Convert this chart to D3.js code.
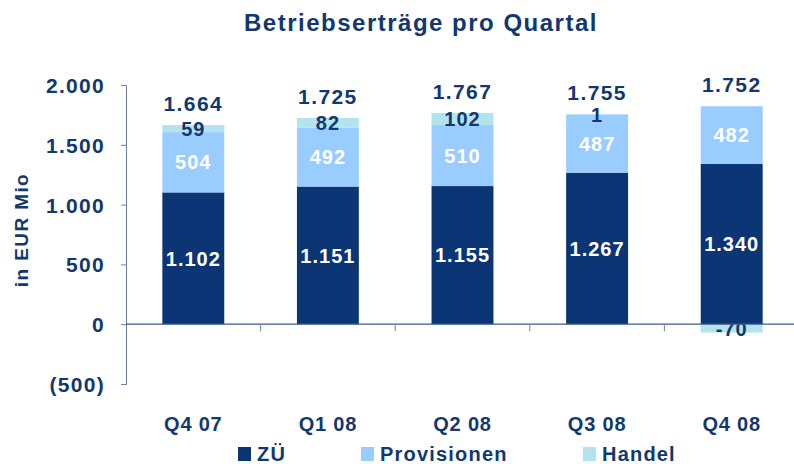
<!DOCTYPE html>
<html>
<head>
<meta charset="utf-8">
<script src="https://cdn.jsdelivr.net/npm/d3@7"></script>
<style>
  body { margin: 0; background: #fff; }
  text { font-family: "Liberation Sans", Arial, sans-serif; font-weight: bold; }
</style>
</head>
<body>
<svg id="chart" width="794" height="464"></svg>
<script>
// data
var quarters = ["Q4 07", "Q1 08", "Q2 08", "Q3 08", "Q4 08"];
var zue = [1102, 1151, 1155, 1267, 1340];
var provisionen = [504, 492, 510, 487, 482];
var handel = [59, 82, 102, 1, -70];
var totals = [1664, 1725, 1767, 1755, 1752];
var seriesNames = ["ZÜ", "Provisionen", "Handel"];
var yTicks = [-500, 0, 500, 1000, 1500, 2000];

var colors = {"ZÜ": "#0b3575", "Provisionen": "#99ccff", "Handel": "#b3e3ee"};
var labelColors = {"ZÜ": "#ffffff", "Provisionen": "#ffffff", "Handel": "#12386e"};
var navy = "#12386e";

var svg = d3.select("#chart"),
    margin = {top: 85, left: 126},
    plotRight = 799;

var table = quarters.map(function (q, i) {
    return {quarter: q, "ZÜ": zue[i], "Provisionen": provisionen[i], "Handel": handel[i], total: totals[i]};
});

var x = d3.scaleBand()
    .domain(quarters)
    .range([margin.left, plotRight])
    .paddingInner(0.54)
    .paddingOuter(0.27);

var y = d3.scaleLinear()
    .domain([-500, 2000])
    .range([384, 85]);

var fmt = function (v) {
    var s = d3.format(",")(Math.abs(v)).replace(/,/g, ".");
    return v < 0 ? "(" + s + ")" : s;
};
var fmtLabel = function (v) {
    return (v < 0 ? "-" : "") + d3.format(",")(Math.abs(v)).replace(/,/g, ".");
};

// title
svg.append("text")
    .attr("x", 421)
    .attr("y", 31)
    .attr("text-anchor", "middle")
    .attr("fill", navy)
    .style("font-size", "24px")
    .style("letter-spacing", "1.5px")
    .text("Betriebserträge pro Quartal");

// y axis title
svg.append("text")
    .attr("transform", "translate(28,230) rotate(-90)")
    .attr("text-anchor", "middle")
    .attr("fill", navy)
    .style("font-size", "19px")
    .style("letter-spacing", "1.4px")
    .text("in EUR Mio");

var stack = d3.stack()
    .keys(seriesNames)
    .offset(d3.stackOffsetDiverging);
var layers = stack(table);

var g = svg.append("g");

layers.forEach(function (layer) {
    g.selectAll(".bar-" + layer.index)
        .data(layer)
        .enter().append("rect")
        .attr("x", function (d) { return x(d.data.quarter); })
        .attr("width", x.bandwidth())
        .attr("y", function (d) { return y(Math.max(d[0], d[1])); })
        .attr("height", function (d) { return Math.abs(y(d[0]) - y(d[1])); })
        .attr("fill", colors[layer.key]);
});

// y axis
var yAxis = svg.append("g")
    .attr("transform", "translate(" + margin.left + ",0)")
    .call(d3.axisLeft(y).tickValues(yTicks).tickFormat(fmt).tickSize(5).tickSizeOuter(5).tickPadding(16));
yAxis.select(".domain").attr("stroke", "#6f7fa3");
yAxis.selectAll(".tick line").attr("stroke", "#6f7fa3");
yAxis.selectAll(".tick text")
    .attr("fill", navy)
    .style("font-size", "21px")
    .style("letter-spacing", "1.3px")
    .attr("dy", "0.36em");

// x axis along zero
var bounds = quarters.map(function (q) { return x(q) - x.step() * x.paddingInner() / 2; }).slice(1);
svg.append("line")
    .attr("x1", margin.left).attr("x2", plotRight)
    .attr("y1", y(0)).attr("y2", y(0))
    .attr("stroke", "#3d5a8e").attr("stroke-width", 1.3);
svg.selectAll(".xtick")
    .data(bounds)
    .enter().append("line")
    .attr("x1", function (d) { return d; }).attr("x2", function (d) { return d; })
    .attr("y1", y(0)).attr("y2", y(0) + 7)
    .attr("stroke", "#6f7fa3");

// category labels
svg.selectAll(".cat")
    .data(quarters)
    .enter().append("text")
    .attr("x", function (d) { return x(d) + x.bandwidth() / 2; })
    .attr("y", 431)
    .attr("text-anchor", "middle")
    .attr("fill", navy)
    .style("font-size", "20px")
    .style("letter-spacing", "0.8px")
    .text(function (d) { return d; });

// segment labels
layers.forEach(function (layer) {
    g.selectAll(".lbl-" + layer.index)
        .data(layer)
        .enter().append("text")
        .attr("x", function (d) { return x(d.data.quarter) + x.bandwidth() / 2; })
        .attr("y", function (d) { return y((d[0] + d[1]) / 2); })
        .attr("dy", "0.36em")
        .attr("text-anchor", "middle")
        .attr("fill", labelColors[layer.key])
        .style("font-size", "20px")
        .style("letter-spacing", "1px")
        .text(function (d) { return fmtLabel(d.data[layer.key]); });
});

// totals above bars
g.selectAll(".total")
    .data(table)
    .enter().append("text")
    .attr("x", function (d) { return x(d.quarter) + x.bandwidth() / 2; })
    .attr("y", function (d, i) {
        var hi = d3.max(layers, function (l) { return l[i][1]; });
        return y(hi) - 14;
    })
    .attr("text-anchor", "middle")
    .attr("fill", navy)
    .style("font-size", "21px")
    .style("letter-spacing", "1.4px")
    .text(function (d) { return fmtLabel(d.total); });

// legend
var legendX = [238, 361, 583];
var legend = svg.selectAll(".legend")
    .data(seriesNames)
    .enter().append("g")
    .attr("transform", function (d, i) { return "translate(" + legendX[i] + ",447)"; });
legend.append("rect")
    .attr("width", 13).attr("height", 14)
    .attr("fill", function (d) { return colors[d]; });
legend.append("text")
    .attr("x", 19).attr("y", 14)
    .attr("fill", navy)
    .style("font-size", "20px")
    .style("letter-spacing", "1.2px")
    .text(function (d) { return d; });
</script>
</body>
</html>
